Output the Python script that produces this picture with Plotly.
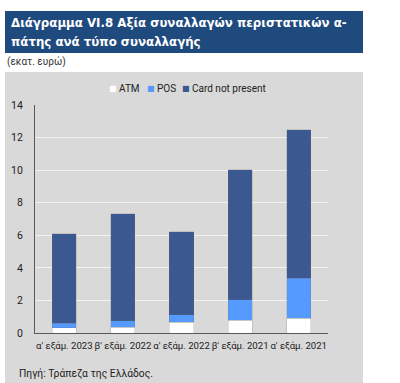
import plotly.graph_objects as go

categories = ["α' εξάμ. 2023", "β' εξάμ. 2022", "α' εξάμ. 2022", "β' εξάμ. 2021", "α' εξάμ. 2021"]
atm = [0.31, 0.35, 0.65, 0.78, 0.90]
pos = [0.30, 0.39, 0.47, 1.26, 2.45]
cnp = [5.48, 6.58, 5.11, 7.97, 9.14]
series_names = ["ATM", "POS", "Card not present"]
series_colors = ["#FFFFFF", "#559AFF", "#3B5890"]
y_ticks = [0, 2, 4, 6, 8, 10, 12, 14]

W, H = 400, 383
L, R, T, B = 35, 328, 105, 333

def px(x):
    return (x - L) / (R - L)

def py(y):
    return (B - y) / (B - T)

fig = go.Figure()
line = dict(color="rgba(110,110,110,0.35)", width=0.6)
for vals, name, col in zip([atm, pos, cnp], series_names, series_colors):
    fig.add_bar(x=categories, y=vals, name=name, marker=dict(color=col, line=line))

annotations = [
    dict(text="<b>Διάγραμμα VI.8 Αξία συναλλαγών περιστατικών α-</b>",
         xref="paper", yref="paper", x=px(9), y=py(23), xanchor="left", yanchor="middle",
         showarrow=False, font=dict(family="DejaVu Sans", size=11.8, color="#FFFFFF")),
    dict(text="<b>πάτης ανά τύπο συναλλαγής</b>",
         xref="paper", yref="paper", x=px(9), y=py(42), xanchor="left", yanchor="middle",
         showarrow=False, font=dict(family="DejaVu Sans", size=11.8, color="#FFFFFF")),
    dict(text="(εκατ. ευρώ)", xref="paper", yref="paper", x=px(5), y=py(62), xanchor="left",
         yanchor="middle", showarrow=False, font=dict(size=10, color="#333333")),
    dict(text="Πηγή: Τράπεζα της Ελλάδος.", xref="paper", yref="paper", x=px(17), y=py(373),
         xanchor="left", yanchor="middle", showarrow=False, font=dict(size=10.3, color="#222222")),
]
# legend row (drawn as text so its compact spacing matches the original)
leg_x = [113, 151, 186]
for xx, name, col in zip(leg_x, series_names, series_colors):
    annotations.append(dict(text="■", xref="paper", yref="paper", x=px(xx), y=py(88),
                            xanchor="center", yanchor="middle", showarrow=False,
                            font=dict(family="DejaVu Sans", size=8, color=col)))
    annotations.append(dict(text=name, xref="paper", yref="paper", x=px(xx + 4), y=py(88),
                            xanchor="left", yanchor="middle", showarrow=False,
                            font=dict(size=10, color="#222222")))

fig.update_layout(
    barmode="stack",
    bargap=0.59,
    width=W, height=H, autosize=False,
    margin=dict(l=L, r=W - R, t=T, b=H - B, pad=0),
    paper_bgcolor="#FFFFFF",
    plot_bgcolor="rgba(0,0,0,0)",
    font=dict(family="Roboto, Liberation Sans, sans-serif", size=10, color="#222222"),
    showlegend=False,
    shapes=[
        dict(type="rect", xref="paper", yref="paper", x0=px(5), x1=px(363), y0=py(383), y1=py(72),
             fillcolor="#D9D9D9", line=dict(width=0), layer="below"),
        dict(type="rect", xref="paper", yref="paper", x0=px(5), x1=px(363), y0=py(53), y1=py(11),
             fillcolor="#1F4A7E", line=dict(width=0), layer="below"),
    ],
    annotations=annotations,
)
fig.update_yaxes(range=[0, 14], tickvals=y_ticks, showgrid=True, gridcolor="#F2F2F2", gridwidth=1,
                 zeroline=False, showline=True, linecolor="#595959", linewidth=1,
                 ticks="", ticklabelstandoff=9, tickfont=dict(size=10.5, color="#222222"))
fig.update_xaxes(showline=True, linecolor="#595959", linewidth=1, ticks="",
                 tickangle=0, tickfont=dict(size=9.6, color="#222222"), ticklabelstandoff=3)

fig.write_html("out.html", config={"displayModeBar": False},
               post_script="document.body.style.margin='0';document.body.style.padding='0';")
